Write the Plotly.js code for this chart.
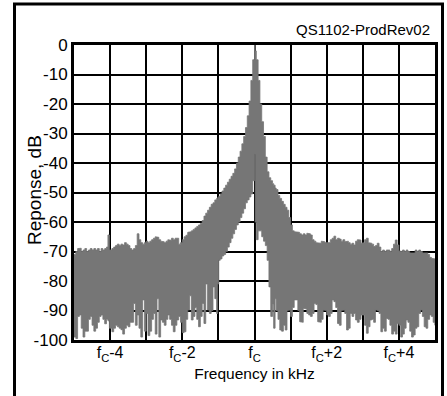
<!DOCTYPE html>
<html>
<head>
<meta charset="utf-8">
<script src="https://cdn.plot.ly/plotly-3.0.1.min.js"></script>
<style>
  html, body { margin: 0; padding: 0; background: #fff; }
  #chart { width: 447px; height: 396px; }
</style>
</head>
<body>
<div id="chart"></div>
<script>
// Frequency offset from the carrier fc, in kHz
const freq = [
  -5.00, -4.95, -4.90, -4.85, -4.80, -4.75, -4.70, -4.65, -4.60, -4.55,
  -4.50, -4.45, -4.40, -4.35, -4.30, -4.25, -4.20, -4.15, -4.10, -4.06,
  -4.02, -3.95, -3.90, -3.85, -3.80, -3.75, -3.70, -3.65, -3.60, -3.55,
  -3.50, -3.45, -3.40, -3.35, -3.30, -3.25, -3.20, -3.15, -3.10, -3.05,
  -3.00, -2.95, -2.90, -2.85, -2.80, -2.75, -2.70, -2.65, -2.60, -2.55,
  -2.50, -2.45, -2.40, -2.35, -2.30, -2.25, -2.20, -2.15, -2.10, -2.05,
  -2.00, -1.95, -1.90, -1.85, -1.80, -1.75, -1.70, -1.65, -1.60, -1.55,
  -1.50, -1.45, -1.40, -1.35, -1.30, -1.25, -1.20, -1.15, -1.10, -1.05,
  -1.02, -0.99, -0.95, -0.90, -0.85, -0.80, -0.75, -0.70, -0.65, -0.60,
  -0.55, -0.50, -0.45, -0.40, -0.35, -0.30, -0.25, -0.20, -0.15, -0.10,
  -0.05, 0.00, 0.02, 0.05, 0.10, 0.15, 0.20, 0.25, 0.30, 0.35,
  0.40, 0.45, 0.50, 0.53, 0.57, 0.60, 0.65, 0.70, 0.75, 0.80,
  0.85, 0.90, 0.95, 1.00, 1.05, 1.10, 1.15, 1.20, 1.25, 1.30,
  1.35, 1.40, 1.45, 1.50, 1.55, 1.60, 1.65, 1.70, 1.75, 1.80,
  1.85, 1.90, 1.95, 2.00, 2.05, 2.10, 2.15, 2.20, 2.25, 2.30,
  2.35, 2.40, 2.45, 2.50, 2.55, 2.60, 2.65, 2.70, 2.75, 2.80,
  2.85, 2.90, 2.95, 3.00, 3.05, 3.10, 3.15, 3.20, 3.25, 3.30,
  3.35, 3.40, 3.45, 3.50, 3.55, 3.60, 3.65, 3.70, 3.75, 3.80,
  3.85, 3.90, 3.95, 4.00, 4.05, 4.10, 4.15, 4.20, 4.25, 4.30,
  4.35, 4.40, 4.45, 4.50, 4.55, 4.60, 4.65, 4.70, 4.75, 4.80,
  4.85, 4.90, 4.95, 5.00
];

// Upper envelope of the measured response, dB
const upperDb = [
  -71.0, -70.0, -69.0, -68.9, -70.0, -69.5, -69.0, -70.0, -69.5, -69.0,
  -69.5, -69.0, -69.5, -69.0, -70.0, -69.0, -69.5, -69.0, -68.5, -64.4,
  -69.5, -69.0, -68.5, -68.0, -67.5, -68.0, -67.5, -67.8, -67.0, -67.5,
  -68.0, -69.0, -69.5, -69.0, -68.0, -64.0, -66.0, -67.0, -67.5, -67.0,
  -66.5, -67.0, -66.5, -66.0, -65.5, -65.0, -65.2, -66.0, -66.5, -66.7,
  -67.0, -66.5, -66.0, -66.2, -65.5, -66.0, -65.5, -65.5, -67.5, -67.0,
  -66.0, -65.0, -64.5, -63.5, -63.3, -63.0, -62.5, -62.0, -61.5, -61.0,
  -60.5, -59.5, -58.0, -57.0, -56.0, -55.0, -54.0, -53.5, -52.5, -52.0,
  -51.7, -51.3, -50.5, -49.5, -48.5, -47.5, -46.5, -45.5, -44.5, -43.5,
  -42.0, -40.0, -38.0, -36.0, -33.5, -31.0, -28.0, -24.0, -19.0, -12.0,
  -5.0, 0.0, -2.0, -5.0, -12.0, -20.0, -26.0, -31.0, -38.0, -43.0,
  -45.0, -46.0, -47.0, -47.5, -48.5, -49.0, -51.0, -52.0, -53.0, -54.0,
  -55.0, -56.0, -58.5, -61.0, -63.0, -63.3, -63.5, -63.5, -64.0, -64.4,
  -64.0, -64.4, -63.8, -64.0, -64.4, -66.0, -66.5, -67.0, -67.0, -67.2,
  -66.5, -66.7, -67.0, -67.2, -67.0, -66.0, -65.5, -64.8, -66.0, -65.5,
  -65.8, -66.5, -66.0, -66.7, -66.5, -67.0, -67.5, -67.2, -67.8, -66.5,
  -66.0, -66.1, -67.2, -67.0, -66.0, -65.5, -67.0, -67.2, -67.5, -68.3,
  -68.0, -67.2, -68.5, -70.0, -69.5, -70.0, -69.5, -69.5, -70.0, -69.0,
  -67.5, -66.1, -67.8, -69.8, -70.0, -69.5, -70.0, -69.5, -70.0, -70.5,
  -70.6, -70.5, -69.5, -70.0, -69.5, -70.0, -70.5, -70.6, -70.5, -71.0,
  -72.0, -72.3, -72.5, -72.5
];

// Lower envelope of the measured response, dB
const lowerDb = [
  -99.0, -99.5, -92.0, -91.5, -96.0, -99.0, -97.0, -97.0, -93.0, -92.0,
  -95.0, -97.0, -96.0, -94.0, -92.0, -91.5, -93.0, -94.5, -93.0, -93.5,
  -96.0, -97.2, -96.0, -95.0, -95.5, -96.0, -96.5, -98.0, -96.0, -95.0,
  -95.5, -94.0, -94.0, -87.6, -95.0, -91.5, -96.0, -99.0, -86.4, -97.0,
  -91.0, -98.5, -97.0, -93.0, -91.0, -98.0, -86.0, -99.0, -93.2, -94.0,
  -95.0, -93.0, -91.5, -93.0, -95.0, -97.2, -95.0, -93.2, -92.0, -94.0,
  -97.5, -97.2, -93.0, -89.8, -85.0, -93.2, -92.0, -89.0, -93.0, -95.5,
  -92.0, -87.6, -94.4, -81.0, -89.8, -91.0, -90.0, -82.0, -86.0, -91.0,
  -81.0, -73.0, -72.5, -71.5, -71.0, -70.0, -68.5, -67.0, -65.5, -64.0,
  -62.5, -61.0, -60.0, -58.5, -57.0, -55.5, -53.5, -52.5, -51.5, -50.5,
  -46.0, -37.0, -60.0, -66.0, -63.0, -63.0, -65.0, -66.5, -68.0, -73.0,
  -82.0, -92.0, -88.0, -96.0, -86.0, -90.0, -93.0, -96.6, -97.0, -95.0,
  -96.6, -90.0, -89.8, -92.0, -89.0, -86.4, -86.4, -90.0, -93.8, -94.0,
  -89.3, -89.5, -91.0, -91.5, -92.0, -91.0, -87.6, -88.0, -93.8, -94.0,
  -93.0, -89.8, -90.0, -91.5, -92.0, -91.0, -86.4, -87.0, -89.0, -94.4,
  -95.0, -90.0, -89.8, -91.0, -96.6, -96.0, -91.0, -92.0, -91.0, -93.2,
  -94.0, -93.0, -91.5, -91.5, -95.0, -97.7, -95.5, -93.2, -93.0, -94.0,
  -89.8, -90.0, -91.0, -97.2, -96.0, -97.0, -92.7, -93.0, -95.0, -98.0,
  -97.0, -98.0, -94.4, -95.0, -99.0, -98.0, -96.0, -93.2, -94.0, -97.0,
  -99.0, -98.3, -96.0, -95.5, -91.0, -89.8, -92.0, -95.5, -96.0, -93.0,
  -91.5, -92.0, -94.0, -95.0
];

const yTickVals = [0, -10, -20, -30, -40, -50, -60, -70, -80, -90, -100];
const yTickText = ['0', '-10', '-20', '-30', '-40', '-50', '-60', '-70', '-80', '-90', '-100'];
const xTickVals = [-4, -2, 0, 2, 4];
const xTickText = ['f<sub>C</sub>-4', 'f<sub>C</sub>-2', 'f<sub>C</sub>', 'f<sub>C</sub>+2', 'f<sub>C</sub>+4'];

const bandColor = '#767676';
const FONT = 'Liberation Sans, Arial, Helvetica, sans-serif';

// Build one closed, stepped outline of the band from the envelope arrays
const bandX = [], bandY = [];
for (let i = 0; i < freq.length; i++) {
  bandX.push(freq[i]); bandY.push(upperDb[i]);
  if (i + 1 < freq.length) { bandX.push(freq[i + 1]); bandY.push(upperDb[i]); }
}
for (let i = freq.length - 1; i >= 0; i--) {
  if (i + 1 < freq.length) { bandX.push(freq[i + 1]); bandY.push(lowerDb[i]); }
  bandX.push(freq[i]); bandY.push(lowerDb[i]);
}
bandX.push(freq[0]); bandY.push(upperDb[0]);

const traces = [
  {
    x: bandX, y: bandY, type: 'scatter', mode: 'lines',
    line: { color: bandColor, width: 0.8 },
    fill: 'toself', fillcolor: bandColor,
    hoverinfo: 'skip', showlegend: false
  }
];

const L = 74, R = 435, T = 45, B = 340, W = 447, H = 396;
const px = v => (v - L) / (R - L);
const py = v => (B - v) / (B - T);

const layout = {
  width: W, height: H,
  margin: { l: L, r: W - R, t: T, b: H - B, pad: 0 },
  paper_bgcolor: '#ffffff', plot_bgcolor: '#ffffff',
  font: { family: FONT, color: '#000000', size: 16 },
  title: {
    text: 'QS1102-ProdRev02',
    x: 430 / W, xanchor: 'right', xref: 'container',
    y: 1 - 30 / H, yanchor: 'middle', yref: 'container',
    font: { family: FONT, size: 15, color: '#000000' }
  },
  xaxis: {
    range: [-5, 5],
    tickvals: xTickVals, ticktext: xTickText,
    showgrid: true, gridcolor: '#000000', gridwidth: 2,
    minor: { dtick: 1, tick0: 0, showgrid: true, gridcolor: '#000000', gridwidth: 2, ticks: '' },
    zeroline: false,
    showline: true, linecolor: '#000000', linewidth: 3, mirror: true,
    ticks: '', ticklabelstandoff: -4,
    tickfont: { family: FONT, size: 16, color: '#000000' },
    title: { text: 'Frequency in kHz', font: { family: FONT, size: 15.5, color: '#000000' }, standoff: 6 },
    fixedrange: true
  },
  yaxis: {
    range: [-100, 0],
    tickvals: yTickVals, ticktext: yTickText,
    showgrid: true, gridcolor: '#000000', gridwidth: 2,
    zeroline: false,
    showline: true, linecolor: '#000000', linewidth: 3, mirror: true,
    ticks: '', tickfont: { family: FONT, size: 17, color: '#000000' },
    fixedrange: true
  },
  annotations: [
    {
      text: 'Reponse, dB', xref: 'paper', yref: 'paper',
      x: px(34), y: py(190), xanchor: 'center', yanchor: 'middle',
      textangle: -90, showarrow: false,
      font: { family: FONT, size: 19, color: '#000000' }
    }
  ],
  shapes: [
    { type: 'line', xref: 'paper', yref: 'paper', x0: px(14.5), x1: px(14.5), y0: py(4), y1: py(400), line: { color: '#000000', width: 3 } },
    { type: 'line', xref: 'paper', yref: 'paper', x0: px(13), x1: px(444), y0: py(4), y1: py(4), line: { color: '#000000', width: 3 } },
    { type: 'line', xref: 'paper', yref: 'paper', x0: px(442.5), x1: px(442.5), y0: py(4), y1: py(400), line: { color: '#000000', width: 3 } }
  ]
};

Plotly.newPlot('chart', traces, layout, { staticPlot: true, displayModeBar: false });
</script>
</body>
</html>
